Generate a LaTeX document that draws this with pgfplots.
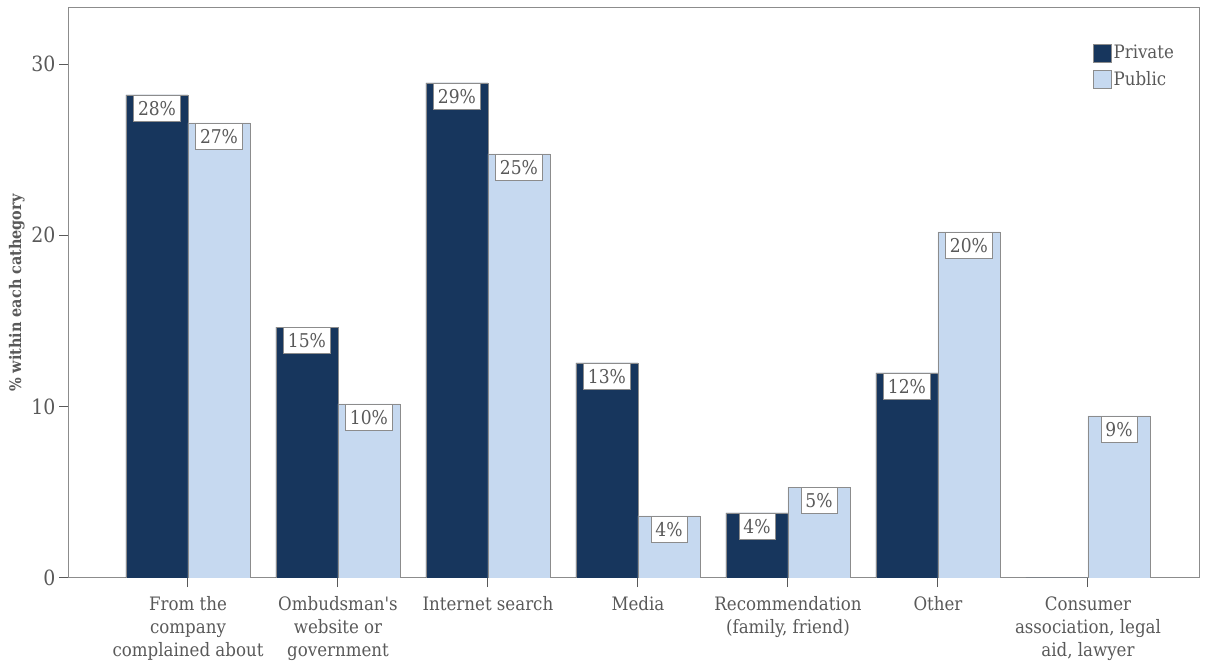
\documentclass[border=0pt]{standalone}
\usepackage{pgfplots}
\pgfplotsset{compat=1.18}
\usepackage{fontspec}
\setmainfont{DejaVu Serif Condensed}
\newfontfamily\plainfont{DejaVu Serif Condensed}
\definecolor{navy}{HTML}{17365D}
\definecolor{lightb}{HTML}{C6D9F0}
\definecolor{txt}{HTML}{595959}
\definecolor{edge}{HTML}{8C8C8C}
\begin{document}
\begin{tikzpicture}[x=1pt,y=1pt]
\useasboundingbox (0,0) rectangle (1209,666);
\begin{axis}[
  at={(68pt,88pt)}, anchor=south west,
  scale only axis, width=1132pt, height=570pt,
  xmin=-0.8, xmax=6.7467, ymin=0, ymax=33.27,
  ybar, bar width=62pt,
  axis line style={draw=edge, line width=1pt},
  tick pos=left, tick align=outside,
  major tick length=9pt,
  tick style={draw=txt, line width=1pt},
  ytick={0,10,20,30},
  yticklabel style={font=\fontsize{21}{21}\selectfont, text=txt},
  /pgf/number format/assume math mode=true,
  xtick={0,1,2,3,4,5,6},
  xticklabels={{From the\\company\\complained about},{{\plainfont Ombudsman's}\\website or\\government},{Internet search},{Media},{Recommendation\\(family, friend)},{Other},{Consumer\\association, legal\\aid, lawyer}},
  xticklabel style={align=center, font=\fontsize{18.5}{23}\selectfont, text=txt, yshift=-6pt},
  ylabel={\textbf{\% within each cathegory}},
  ylabel style={font=\fontsize{16}{16}\selectfont, text=txt},
  legend style={at={(0.9055,0.9386)}, anchor=north west, draw=none, fill=none,
    font=\fontsize{18.5}{18.5}\selectfont, text=txt, row sep=7pt, inner sep=0pt,
    nodes={inner sep=2pt}},
  legend cell align=left,
  every node near coord/.append style={anchor=north, fill=white, draw=edge,
    text=txt, inner xsep=4.5pt, inner ysep=6pt, font=\fontsize{19}{19}\selectfont, yshift=0pt},
]
\addplot[fill=navy, draw=edge, bar shift=-31pt,
  nodes near coords={\pgfmathprintnumber[fixed,precision=0]{\pgfplotspointmeta}\%},
  legend image code/.code={\draw[fill=navy,draw=edge] (0pt,-9pt) rectangle (18pt,9pt);}]
  coordinates {(0,28.2)(1,14.65)(2,28.9)(3,12.55)(4,3.8)(5,11.97)};
\addlegendentry{Private}
\addplot[fill=lightb, draw=edge, bar shift=31pt,
  nodes near coords={\pgfmathprintnumber[fixed,precision=0]{\pgfplotspointmeta}\%},
  legend image code/.code={\draw[fill=lightb,draw=edge] (0pt,-9pt) rectangle (18pt,9pt);}]
  coordinates {(0,26.56)(1,10.16)(2,24.75)(3,3.62)(4,5.31)(5,20.2)(6,9.46)};
\addlegendentry{Public}
\addplot[fill=navy, draw=navy!60!gray, bar shift=-31pt, forget plot]
  coordinates {(6,0)};
\end{axis}
\end{tikzpicture}
\end{document}
